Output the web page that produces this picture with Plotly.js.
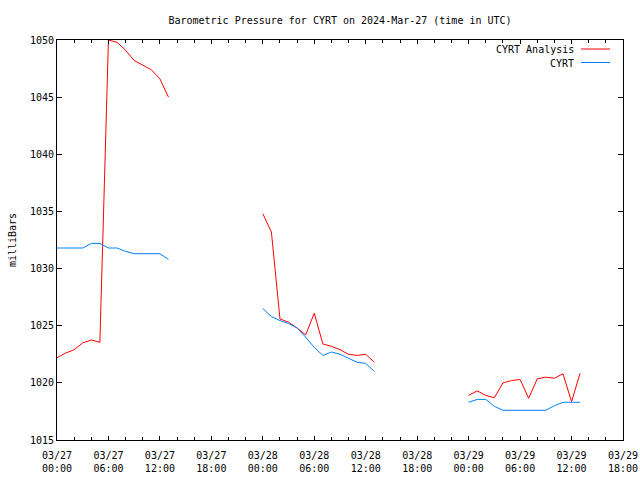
<!DOCTYPE html>
<html>
<head>
<meta charset="utf-8">
<script src="https://cdn.plot.ly/plotly-3.0.1.min.js"></script>
<style>html,body{margin:0;padding:0;background:#fff;}#chart{width:640px;height:480px;}</style>
</head>
<body>
<div id="chart"></div>
<script>
// Segment 1: 2024-03-27 00:00 - 13:00
const times1 = ["2024-03-27 00:00","2024-03-27 01:00","2024-03-27 02:00","2024-03-27 03:00","2024-03-27 04:00","2024-03-27 05:00","2024-03-27 06:00","2024-03-27 07:00","2024-03-27 08:00","2024-03-27 09:00","2024-03-27 10:00","2024-03-27 11:00","2024-03-27 12:00","2024-03-27 13:00"];
const analysis1 = [1022.2,1022.6,1022.9,1023.5,1023.75,1023.55,1050.0,1049.8,1049.1,1048.2,1047.8,1047.4,1046.6,1045.0];
const obs1 = [1031.8,1031.8,1031.8,1031.8,1032.2,1032.2,1031.8,1031.8,1031.5,1031.3,1031.3,1031.3,1031.3,1030.8];

// Segment 2: 2024-03-28 00:00 - 13:00
const times2 = ["2024-03-28 00:00","2024-03-28 01:00","2024-03-28 02:00","2024-03-28 03:00","2024-03-28 04:00","2024-03-28 05:00","2024-03-28 06:00","2024-03-28 07:00","2024-03-28 08:00","2024-03-28 09:00","2024-03-28 10:00","2024-03-28 11:00","2024-03-28 12:00","2024-03-28 13:00"];
const analysis2 = [1034.8,1033.2,1025.6,1025.3,1024.8,1024.2,1026.1,1023.4,1023.2,1022.9,1022.5,1022.4,1022.5,1021.8];
const obs2 = [1026.5,1025.8,1025.45,1025.2,1024.8,1024.0,1023.1,1022.4,1022.7,1022.5,1022.15,1021.8,1021.7,1021.0];

// Segment 3: 2024-03-29 00:00 - 13:00
const times3 = ["2024-03-29 00:00","2024-03-29 01:00","2024-03-29 02:00","2024-03-29 03:00","2024-03-29 04:00","2024-03-29 05:00","2024-03-29 06:00","2024-03-29 07:00","2024-03-29 08:00","2024-03-29 09:00","2024-03-29 10:00","2024-03-29 11:00","2024-03-29 12:00","2024-03-29 13:00"];
const analysis3 = [1018.9,1019.3,1018.9,1018.7,1020.0,1020.2,1020.3,1018.65,1020.35,1020.5,1020.4,1020.8,1018.35,1020.85];
const obs3 = [1018.3,1018.55,1018.55,1017.95,1017.6,1017.6,1017.6,1017.6,1017.6,1017.6,1018.0,1018.3,1018.3,1018.3];

// gap markers between segments
const gap1 = "2024-03-27 18:00";
const gap2 = "2024-03-28 18:00";

const tickVals = ["2024-03-27 00:00","2024-03-27 06:00","2024-03-27 12:00","2024-03-27 18:00","2024-03-28 00:00","2024-03-28 06:00","2024-03-28 12:00","2024-03-28 18:00","2024-03-29 00:00","2024-03-29 06:00","2024-03-29 12:00","2024-03-29 18:00"];
const tickText = ["03/27<br>00:00","03/27<br>06:00","03/27<br>12:00","03/27<br>18:00","03/28<br>00:00","03/28<br>06:00","03/28<br>12:00","03/28<br>18:00","03/29<br>00:00","03/29<br>06:00","03/29<br>12:00","03/29<br>18:00"];
const yTicks = [1015,1020,1025,1030,1035,1040,1045,1050];

const seriesNames = ["CYRT Analysis","CYRT"];
const redColor = "#ff0000";
const blueColor = "#0080ff";

const xAll = times1.concat([gap1], times2, [gap2], times3);
const yAnalysis = analysis1.concat([null], analysis2, [null], analysis3);
const yObs = obs1.concat([null], obs2, [null], obs3);

const font = {family: "DejaVu Sans Mono, Liberation Mono, monospace", size: 10, color: "#000"};

const traces = [
  {x: xAll, y: yAnalysis, name: seriesNames[0], type: "scatter", mode: "lines",
   line: {color: redColor, width: 1}, connectgaps: false},
  {x: xAll, y: yObs, name: seriesNames[1], type: "scatter", mode: "lines",
   line: {color: blueColor, width: 1}, connectgaps: false}
];

const px = (p) => (p - 57) / 566;
const py = (p) => (440 - p) / 400;

const layout = {
  width: 640, height: 480,
  margin: {l: 57, r: 17, t: 40, b: 40, pad: 0},
  paper_bgcolor: "#fff", plot_bgcolor: "#fff",
  font: font,
  showlegend: false,
  title: {text: "Barometric Pressure for CYRT on 2024-Mar-27 (time in UTC)", font: font,
          x: 0.5, xref: "paper", xanchor: "center", y: 1 - 20/480, yref: "container", yanchor: "middle"},
  xaxis: {
    type: "date",
    range: ["2024-03-27 00:00", "2024-03-29 18:00"],
    tickmode: "array", tickvals: tickVals, ticktext: tickText,
    ticks: "inside", ticklen: 4, tickwidth: 1, tickcolor: "#000",
    ticklabelstandoff: 6,
    minor: {dtick: 7200000, tick0: "2024-03-27 00:00", ticks: "inside", ticklen: 3, tickcolor: "#000", showgrid: false},
    showline: true, linecolor: "#000", linewidth: 1, mirror: "ticks",
    showgrid: false, zeroline: false, tickfont: font, automargin: false
  },
  yaxis: {
    range: [1015, 1050],
    tickmode: "array", tickvals: yTicks,
    ticks: "inside", ticklen: 5, tickwidth: 1, tickcolor: "#000",
    showline: true, linecolor: "#000", linewidth: 1, mirror: "ticks",
    showgrid: false, zeroline: false, tickfont: font, automargin: false,
    title: {text: "milliBars", font: font, standoff: 11}
  },
  annotations: [
    {text: seriesNames[0], xref: "paper", yref: "paper", x: px(576), y: py(49.5), xanchor: "right", yanchor: "middle", showarrow: false, font: font},
    {text: seriesNames[1], xref: "paper", yref: "paper", x: px(576), y: py(63), xanchor: "right", yanchor: "middle", showarrow: false, font: font}
  ],
  shapes: [
    {type: "line", xref: "paper", yref: "paper", x0: px(581), x1: px(610), y0: py(49), y1: py(49), line: {color: redColor, width: 1}},
    {type: "line", xref: "paper", yref: "paper", x0: px(581), x1: px(610), y0: py(62.5), y1: py(62.5), line: {color: blueColor, width: 1}}
  ]
};

Plotly.newPlot("chart", traces, layout, {staticPlot: true, displayModeBar: false});
</script>
</body>
</html>
